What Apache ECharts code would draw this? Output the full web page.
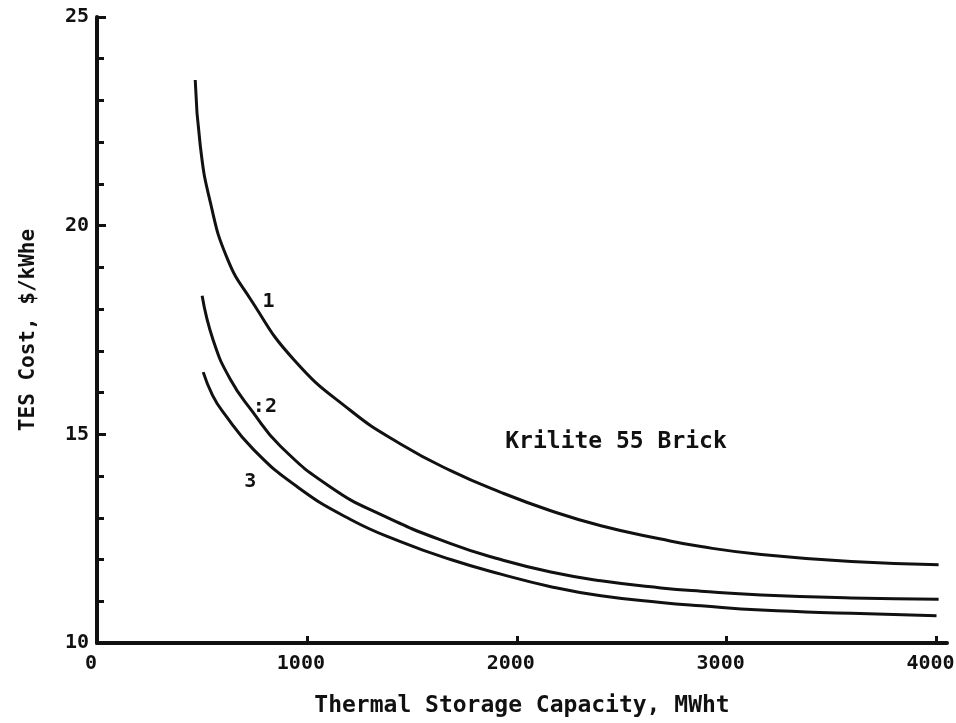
<!DOCTYPE html>
<html>
<head>
<meta charset="utf-8">
<script src="https://cdn.jsdelivr.net/npm/echarts@6/dist/echarts.min.js"></script>
<style>html,body{margin:0;padding:0;background:#fff}#c{width:956px;height:723px}</style>
</head>
<body>
<div id="c"></div>
<script>
// Curve 1
const curve1X = [468, 492, 539, 621, 730, 936, 1208, 1446, 1685, 1924, 2162, 2401, 2687, 2878, 3165, 3594, 4010];
const curve1Y = [23.49, 21.92, 20.58, 19.21, 18.25, 16.80, 15.57, 14.77, 14.13, 13.61, 13.17, 12.81, 12.49, 12.31, 12.12, 11.95, 11.875];
// Curve 2
const curve2X = [501, 554, 635, 740, 873, 1112, 1351, 1685, 1924, 2162, 2401, 2687, 2878, 3165, 3594, 4010];
const curve2Y = [18.32, 17.25, 16.32, 15.55, 14.72, 13.74, 13.08, 12.38, 12.00, 11.70, 11.49, 11.32, 11.24, 11.15, 11.08, 11.05];
// Curve 3
const curve3X = [506, 550, 601, 745, 955, 1208, 1446, 1685, 1924, 2162, 2401, 2687, 2878, 3165, 3594, 4000];
const curve3Y = [16.49, 15.94, 15.53, 14.64, 13.74, 12.96, 12.43, 12.0, 11.65, 11.35, 11.13, 10.97, 10.89, 10.79, 10.71, 10.65];
// Annotations
const noteX = [817, 800, 730, 2473];
const noteY = [18.17, 15.65, 13.87, 14.81];
const noteText = ['1', ':2', '3', 'Krilite 55 Brick'];
const noteSize = [20, 20, 20, 23];

const FONT = '"DejaVu Sans Mono", "Liberation Mono", monospace';
const INK = '#111';

function pairs(xs, ys) { return xs.map((x, i) => [x, ys[i]]); }

const chart = echarts.init(document.getElementById('c'), null, {renderer: 'canvas'});
const lineStyle = {color: INK, width: 3};
chart.setOption({
  animation: false,
  backgroundColor: '#fff',
  grid: {left: 97, right: 9, top: 17, bottom: 80, containLabel: false, outerBoundsMode: 'none'},
  xAxis: {
    type: 'value', min: 0, max: 4050, interval: 1000,
    axisLine: {show: true, lineStyle: {color: INK, width: 4}},
    axisTick: {show: true, inside: true, length: 7, lineStyle: {color: INK, width: 3}},
    minorTick: {show: false},
    splitLine: {show: false},
    axisLabel: {color: INK, fontFamily: FONT, fontSize: 20, fontWeight: 'bold', margin: 11,
      padding: [0, 12, 0, 0], showMaxLabel: false, formatter: v => String(v)},
    name: 'Thermal Storage Capacity, MWht',
    nameLocation: 'middle', nameGap: 52,
    nameTextStyle: {color: INK, fontFamily: FONT, fontSize: 23, fontWeight: 'bold'}
  },
  yAxis: {
    type: 'value', min: 10, max: 25, interval: 5,
    axisLine: {show: true, lineStyle: {color: INK, width: 4}},
    axisTick: {show: true, inside: true, length: 9, lineStyle: {color: INK, width: 3}},
    minorTick: {show: true, splitNumber: 5, length: 7, lineStyle: {color: INK, width: 3}},
    splitLine: {show: false},
    axisLabel: {color: INK, fontFamily: FONT, fontSize: 20, fontWeight: 'bold', margin: 8},
    name: 'TES Cost, $/kWhe',
    nameLocation: 'middle', nameGap: 58, nameRotate: 90,
    nameTextStyle: {color: INK, fontFamily: FONT, fontSize: 21, fontWeight: 'bold'}
  },
  series: [
    {type: 'line', data: pairs(curve1X, curve1Y), smooth: 0.5, showSymbol: false, lineStyle: lineStyle},
    {type: 'line', data: pairs(curve2X, curve2Y), smooth: 0.5, showSymbol: false, lineStyle: lineStyle},
    {type: 'line', data: pairs(curve3X, curve3Y), smooth: 0.5, showSymbol: false, lineStyle: lineStyle},
    {
      type: 'scatter', symbolSize: 0, silent: true,
      itemStyle: {opacity: 1, color: INK},
      data: noteX.map((x, i) => ({
        value: [x, noteY[i]],
        label: {show: true, position: 'inside', formatter: noteText[i],
          color: INK, opacity: 1, fontFamily: FONT, fontSize: noteSize[i], fontWeight: 'bold'}
      }))
    }
  ]
});
</script>
</body>
</html>
